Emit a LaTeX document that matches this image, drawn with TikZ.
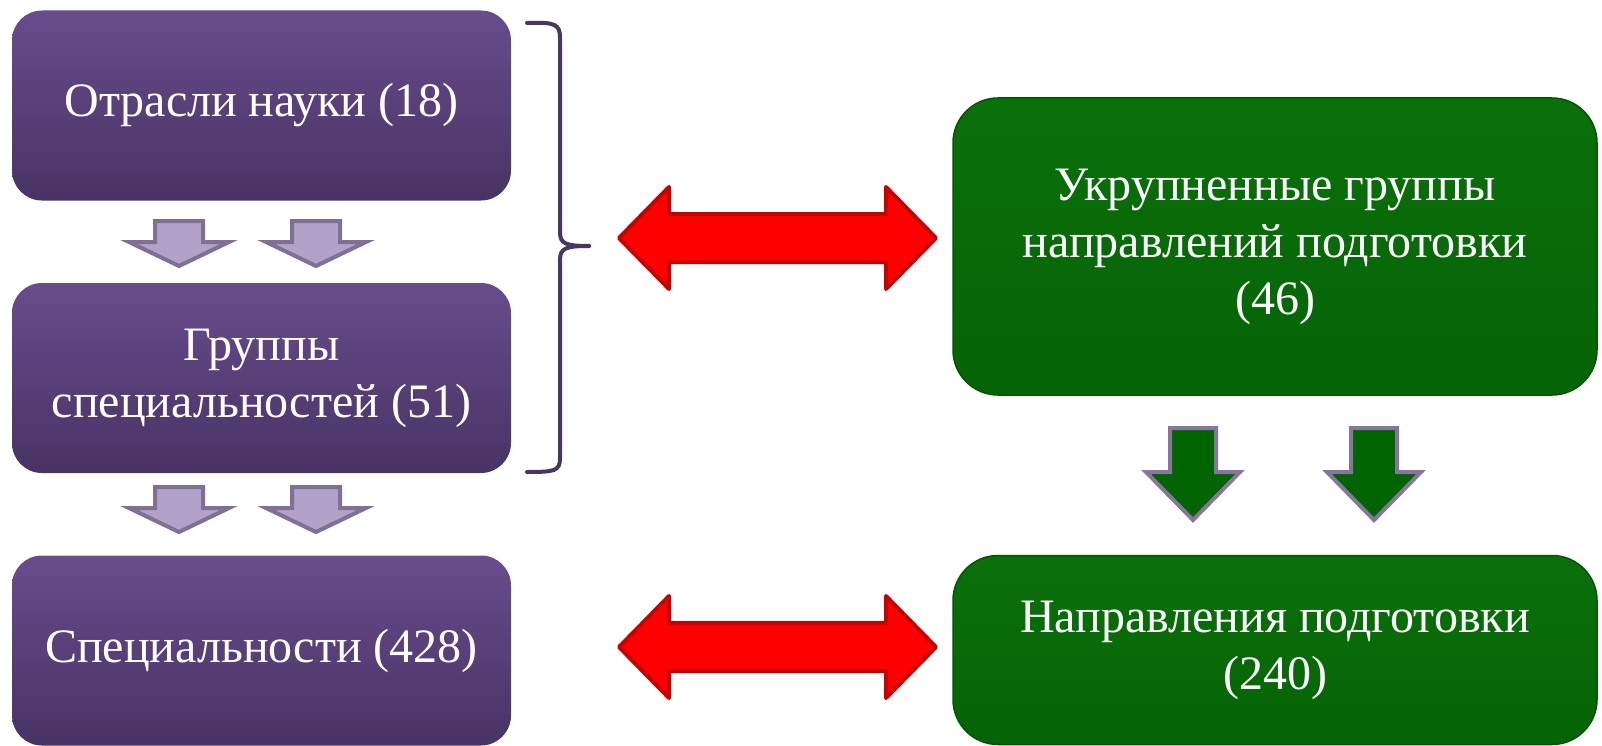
\documentclass[tikz,border=0pt]{standalone}
\usepackage{fontspec}
\setmainfont{Liberation Serif}
\usetikzlibrary{backgrounds}
\definecolor{purpleTop}{RGB}{104,76,140}
\definecolor{purpleBot}{RGB}{72,51,100}
\definecolor{greenTop}{RGB}{10,112,10}
\definecolor{greenBot}{RGB}{5,100,5}
\definecolor{greenEdge}{RGB}{4,84,4}
\definecolor{lilac}{RGB}{178,162,199}
\definecolor{lilacDark}{RGB}{128,112,150}
\definecolor{arrowGreen}{RGB}{0,100,0}
\definecolor{arrowGreenEdge}{RGB}{134,118,154}
\definecolor{braceCol}{RGB}{70,56,98}
\definecolor{darkRed}{RGB}{200,0,0}
\newcommand\softshadow[2]{%
  \foreach \k in {1,...,5}{%
    \fill[black,opacity=0.05,rounded corners=#2]
      ([shift={(-\k*1pt,-\k*1pt+2pt)}]#1.north west) rectangle
      ([shift={(\k*1pt,-\k*1pt-4pt)}]#1.south east);
  }}
% style, cx, shaft top, head base, tip, shaft half, head half
\newcommand\dnarrow[7]{%
  \draw[#1] (#2-#6,#3) -- (#2+#6,#3) -- (#2+#6,#4) -- (#2+#7,#4) -- (#2,#5)
    -- (#2-#7,#4) -- (#2-#6,#4) -- cycle;}
% style, cy
\newcommand\redarrow[2]{%
  \draw[#1] (619,#2) -- (669,#2-51) -- (669,#2-24) -- (886,#2-24) -- (886,#2-51)
    -- (936,#2) -- (886,#2+51) -- (886,#2+24) -- (669,#2+24) -- (669,#2+51) -- cycle;}
\begin{document}
\begin{tikzpicture}[x=1pt,y=-1pt]
\tikzset{
  txt/.style={align=center,text=white,font=\fontsize{48}{57}\selectfont,inner sep=0pt},
  pbox/.style={txt,rounded corners=30pt,top color=purpleTop,bottom color=purpleBot,
    minimum width=499pt,minimum height=190pt},
  gbox/.style={txt,rounded corners=45pt,top color=greenTop,bottom color=greenBot,
    draw=greenEdge,line width=1.5pt,minimum width=644pt},
  redstyle/.style={fill=red,draw=darkRed,line width=4pt,line join=round},
  pstyle/.style={fill=lilac,draw=lilacDark,line width=4pt},
  gstyle/.style={fill=arrowGreen,draw=arrowGreenEdge,line width=4pt},
  bracestyle/.style={draw=braceCol,line width=4pt,line cap=round}
}
\fill[white] (0,0) rectangle (1602,746);
\useasboundingbox (0,0) rectangle (1602,746);

\node[pbox] (b1) at (261.5,105.5) {Отрасли науки (18)};
\node[pbox] (b2) at (261.5,378) {Группы\\специальностей (51)};
\node[pbox] (b3) at (261.5,650.5) {Специальности (428)};
\node[gbox,minimum height=297pt] (g1) at (1275,246.5) {Укрупненные группы\\направлений подготовки\\(46)};
\node[gbox,minimum height=189pt] (g2) at (1275,650) {Направления подготовки\\(240)};

\begin{scope}[on background layer]
  \softshadow{b1}{30pt}
  \softshadow{b2}{30pt}
  \softshadow{b3}{30pt}
  \softshadow{g1}{45pt}
  \softshadow{g2}{45pt}
\end{scope}

% small purple arrows
\dnarrow{pstyle}{179}{221}{242}{266}{24}{50}
\dnarrow{pstyle}{316}{221}{242}{266}{24}{50}
\dnarrow{pstyle}{179}{487}{508}{532}{24}{50}
\dnarrow{pstyle}{316}{487}{508}{532}{24}{50}

% green arrows
\dnarrow{gstyle}{1193}{428}{472}{520}{23}{47}
\dnarrow{gstyle}{1374}{428}{472}{520}{23}{47}

% red double arrows
\redarrow{redstyle}{238}
\redarrow{redstyle}{647}

% brace
\draw[bracestyle] (527,23) .. controls (555,22) and (560,24) .. (560,38)
  -- (560,232) .. controls (560,244) and (566,246) .. (589,246);
\draw[bracestyle] (589,246) .. controls (566,246) and (560,248) .. (560,260)
  -- (560,458) .. controls (560,471) and (555,472) .. (527,472);
\end{tikzpicture}
\end{document}
